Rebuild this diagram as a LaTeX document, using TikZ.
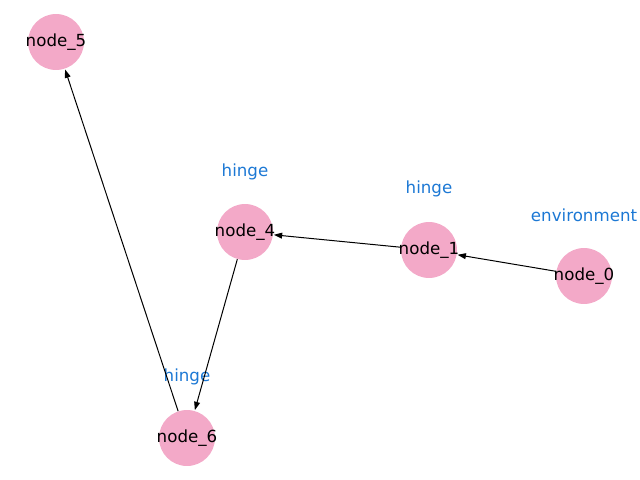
\documentclass[tikz,border=0pt]{standalone}
\usepackage{fontspec}
\setmainfont{DejaVu Sans}
\usetikzlibrary{arrows.meta}
\definecolor{nodepink}{RGB}{243,169,200}
\definecolor{labelblue}{RGB}{28,120,212}
\newcommand{\zw}[1]{\makebox[0pt]{#1}}
\begin{document}
\begin{tikzpicture}[x=0.72pt,y=-0.72pt,
  gnode/.style={circle,fill=nodepink,draw=none,minimum size=40.3pt,inner sep=0pt,font=\fontsize{12pt}{14pt}\selectfont},
  glabel/.style={text=labelblue,font=\fontsize{12pt}{14pt}\selectfont},
  edge/.style={draw=black,line width=0.72pt,-{Triangle[length=6pt,width=4.2pt]},shorten >=0.5pt}]
\useasboundingbox (0,0) rectangle (640,480);
\node[gnode] (n5) at (56,42) {\zw{node\_5}};
\node[gnode] (n4) at (245,232) {\zw{node\_4}};
\node[gnode] (n1) at (429,250) {\zw{node\_1}};
\node[gnode] (n0) at (584,276) {\zw{node\_0}};
\node[gnode] (n6) at (187,438) {\zw{node\_6}};
\node[glabel] (l4) at (245,172) {hinge};
\node[glabel] (l1) at (429,189) {hinge};
\node[glabel] (l0) at (584,215) {environment};
\node[glabel] (l6) at (187,377) {hinge};
\draw[edge] (n0) -- (n1);
\draw[edge] (n1) -- (n4);
\draw[edge] (n4) -- (n6);
\draw[edge] (n6) -- (n5);
\end{tikzpicture}
\end{document}
